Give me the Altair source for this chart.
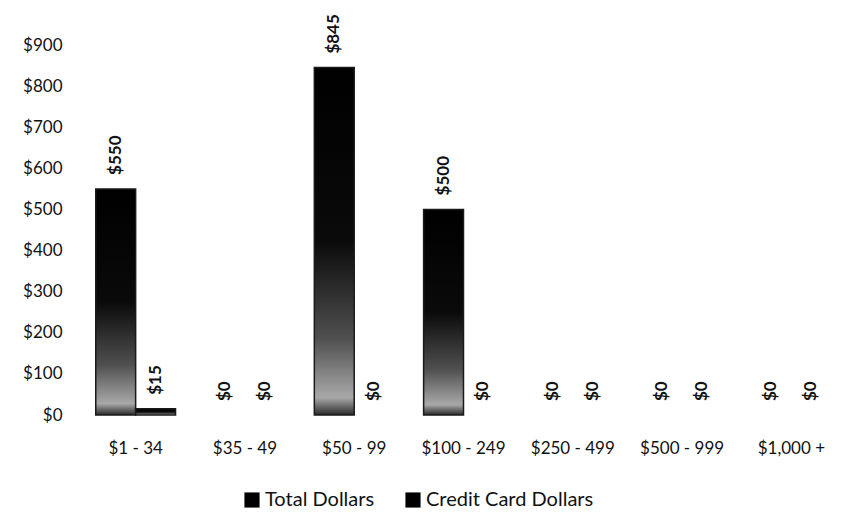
import altair as alt
import pandas as pd

categories = ["$1 - 34", "$35 - 49", "$50 - 99", "$100 - 249", "$250 - 499", "$500 - 999", "$1,000 +"]
series = ["Total Dollars", "Credit Card Dollars"]
total_dollars = [550, 0, 845, 500, 0, 0, 0]
credit_dollars = [15, 0, 0, 0, 0, 0, 0]
y_ticks = [0, 100, 200, 300, 400, 500, 600, 700, 800, 900]

rows = []
for c, t, cc in zip(categories, total_dollars, credit_dollars):
    rows.append({"cat": c, "series": series[0], "value": t, "label": f"${t:,}"})
    rows.append({"cat": c, "series": series[1], "value": cc, "label": f"${cc:,}"})
df = pd.DataFrame(rows)

FONT = "Lato"

x_enc = alt.X(
    "cat:N", sort=categories,
    scale=alt.Scale(paddingInner=0.27, paddingOuter=0.135),
    axis=alt.Axis(title=None, labelAngle=0, ticks=False, domain=False,
                  labelFontSize=17, labelPadding=25, labelFont=FONT,
                  labelColor="#111"),
)
xo_enc = alt.XOffset("series:N", sort=series, scale=alt.Scale(paddingInner=0, paddingOuter=0))
y_enc = alt.Y(
    "value:Q",
    scale=alt.Scale(domain=[0, 900], nice=False),
    axis=alt.Axis(title=None, values=y_ticks, format="$.0f", grid=False,
                  domain=False, ticks=False, labelFontSize=17, labelFont=FONT,
                  labelPadding=19, labelColor="#111"),
)

base = alt.Chart(df)

legend_bars = base.mark_bar().encode(
    x=x_enc, xOffset=xo_enc, y=y_enc,
    color=alt.Color(
        "series:N", sort=series,
        scale=alt.Scale(domain=series, range=["#000000", "#000000"]),
        legend=alt.Legend(
            title=None, orient="none", direction="horizontal",
            legendX=161, legendY=445, symbolType="square", symbolSize=230,
            symbolStrokeWidth=0, labelFontSize=20, labelFont=FONT,
            labelColor="#111", columnPadding=28, labelOffset=3, padding=0,
            labelLimit=400,
        ),
    ),
)

grad = alt.LinearGradient(
    gradient="linear", x1=0, x2=0, y1=0, y2=1,
    stops=[
        alt.GradientStop(offset=0, color="#000000"),
        alt.GradientStop(offset=0.5, color="#0a0a0a"),
        alt.GradientStop(offset=0.78, color="#505050"),
        alt.GradientStop(offset=0.95, color="#a8a8a8"),
        alt.GradientStop(offset=1, color="#2a2a2a"),
    ],
)

grad_bars = base.transform_filter("datum.value > 0").mark_bar(
    fill=grad, stroke="#1a1a1a", strokeWidth=1.5
).encode(
    x=x_enc, xOffset=xo_enc, y=y_enc,
)

labels = base.mark_text(
    angle=270, align="left", baseline="middle", dx=14,
    font=FONT, fontWeight="bold", fontSize=17, color="#111",
).encode(
    x=x_enc, xOffset=xo_enc, y=y_enc, text="label:N",
)

chart = alt.layer(legend_bars, grad_bars, labels).properties(
    width=765, height=370,
    background="white",
    autosize=alt.AutoSizeParams(type="none"),
    padding={"left": 73, "top": 37, "right": 0, "bottom": 97},
).configure_view(strokeWidth=0, strokeOpacity=0)

chart.save("out.html", embed_options={"renderer": "svg", "actions": False})
